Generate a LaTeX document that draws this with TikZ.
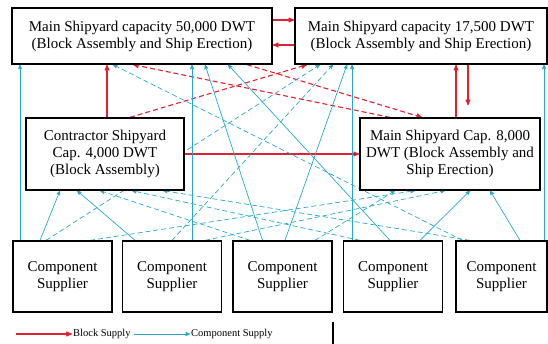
\documentclass[tikz,border=0pt]{standalone}
\usepackage{fontspec}
\setmainfont{Liberation Serif}
\usepackage{xcolor}
\usepackage{tikz}
\usetikzlibrary{arrows,backgrounds}
\definecolor{blockred}{RGB}{222,34,48}
\definecolor{compblue}{RGB}{38,168,204}

\begin{document}
\begin{tikzpicture}[x=1pt,y=-1pt,->,>=stealth',
    yard/.style={draw,line width=1.3pt,fill=white,align=center,inner sep=2pt,
                 font=\fontsize{15}{17}\selectfont},
    supplier/.style={yard,minimum width=99pt,minimum height=71pt},
    block/.style={blockred,line width=1.1pt},
    blockdash/.style={block,dash pattern=on 5pt off 3pt},
    comp/.style={compblue,line width=0.7pt},
    compdash/.style={comp,dash pattern=on 5pt off 3pt}]
    \useasboundingbox (0,0) rectangle (548,344);

    \node[yard,minimum width=260pt,minimum height=56pt] (TL) at (142,36)
        {Main Shipyard capacity 50,000 DWT\\(Block Assembly and Ship Erection)};
    \node[yard,minimum width=252pt,minimum height=56pt] (TR) at (421,36)
        {Main Shipyard capacity 17,500 DWT\\(Block Assembly and Ship Erection)};
    \node[yard,minimum width=158pt,minimum height=72pt] (CT) at (105,154)
        {Contractor Shipyard\\Cap. 4,000 DWT\\(Block Assembly)};
    \node[yard,minimum width=180pt,minimum height=72pt] (MM) at (450,154)
        {Main Shipyard Cap. 8,000\\DWT (Block Assembly and\\Ship Erection)};

    \node[supplier] (S1) at (62.5,276.5) {Component\\Supplier};
    \node[supplier] (S2) at (172,276.5) {Component\\Supplier};
    \node[supplier] (S3) at (282.5,276.5) {Component\\Supplier};
    \node[supplier] (S4) at (393,276.5) {Component\\Supplier};
    \node[supplier,minimum width=91pt] (S5) at (501.5,276.5) {Component\\Supplier};

    \begin{scope}[on background layer]
    % block supply
    \path ([yshift=16pt]TL.east) edge[block] ([yshift=16pt]TR.west)
          ([yshift=-9pt]TR.west) edge[block] ([yshift=-9pt]TL.east)
          ([xshift=2pt]CT.north) edge[block] ([xshift=-35pt]TL.south)
          ([xshift=6pt]MM.north) edge[block] ([xshift=35pt]TR.south)
          ([xshift=47pt]TR.south) edge[block,shorten >=12pt] ([xshift=18pt]MM.north)
          (CT.east) edge[block] (MM.west)
          ([xshift=-60pt]MM.north) edge[blockdash] ([xshift=-9pt]TL.south)
          ([xshift=105pt]TL.south) edge[blockdash] ([xshift=-28pt]MM.north)
          ([xshift=25pt]CT.north) edge[blockdash] ([xshift=-114pt]TR.south);
    % component supply to the top shipyards
    \path ([xshift=-42.5pt]S1.north) edge[comp] ([xshift=-122pt]TL.south)
          ([xshift=20pt]S2.north) edge[comp] ([xshift=50pt]TL.south)
          ([xshift=-20pt]S3.north) edge[comp] ([xshift=63pt]TL.south)
          ([xshift=-3pt]S4.north) edge[comp] ([xshift=86pt]TL.south)
          ([xshift=-39pt]S5.north) edge[compdash] ([xshift=-29pt]TL.south)
          ([xshift=-16.5pt]S1.north) edge[compdash] ([xshift=-101pt]TR.south)
          (S2.north) edge[compdash] ([xshift=-88pt]TR.south)
          ([xshift=2.5pt]S3.north) edge[comp] ([xshift=-74pt]TR.south)
          ([xshift=-41pt]S4.north) edge[comp] ([xshift=-69pt]TR.south)
          ([xshift=42.5pt]S5.north) edge[comp] ([xshift=123pt]TR.south);
    % component supply to the middle shipyards
    \path ([xshift=-22.5pt]S1.north) edge[comp] ([xshift=-45pt]CT.south)
          ([xshift=-37pt]S2.north) edge[comp] ([xshift=-28pt]CT.south)
          ([xshift=-32.5pt]S3.north) edge[compdash] ([xshift=-5pt]CT.south)
          ([xshift=-33pt]S4.north) edge[compdash] ([xshift=27pt]CT.south)
          ([xshift=-31.5pt]S5.north) edge[compdash] ([xshift=58pt]CT.south)
          ([xshift=27.5pt]S1.north) edge[compdash] ([xshift=-35pt]MM.south)
          ([xshift=33pt]S2.north) edge[compdash] ([xshift=-5pt]MM.south)
          ([xshift=32.5pt]S3.north) edge[compdash] ([xshift=-55pt]MM.south)
          ([xshift=27pt]S4.north) edge[comp] ([xshift=20pt]MM.south)
          ([xshift=18.5pt]S5.north) edge[comp] ([xshift=40pt]MM.south);
    \end{scope}

    % legend
    \coordinate (lgA) at (16,334);
    \node[anchor=west,inner sep=1pt,font=\fontsize{10.5}{12}\selectfont] (lgBlock) at (72,334) {Block Supply};
    \coordinate (lgC) at (134,334);
    \node[anchor=west,inner sep=1pt,font=\fontsize{10.5}{12}\selectfont] (lgComp) at (190,334) {Component Supply};
    \path (lgA) edge[block] (lgBlock)
          (lgC) edge[comp] (lgComp);
    \coordinate (lgD) at (333,322);
    \coordinate (lgE) at (333,344);
    \draw[-,line width=1.3pt] (lgD) -- (lgE);
\end{tikzpicture}
\end{document}
